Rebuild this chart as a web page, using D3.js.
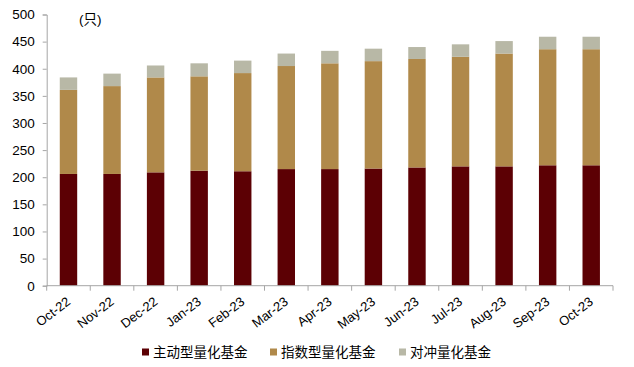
<!DOCTYPE html>
<html lang="zh">
  <head>
    <meta charset="utf-8">
    <title>量化基金数量</title>
    <script src="https://d3js.org/d3.v7.js"></script>
    <style>
      html, body { margin: 0; padding: 0; background: #fff; }
      svg { display: block; }
    </style>
  </head>
  <body>
    <svg></svg>
  <script>

// data

  var months = ["Oct-22", "Nov-22", "Dec-22", "Jan-23", "Feb-23", "Mar-23", "Apr-23",
                "May-23", "Jun-23", "Jul-23", "Aug-23", "Sep-23", "Oct-23"];
  var active = [206, 206, 209, 212, 211, 215, 215, 216, 218, 220, 220, 222, 222];
  var indexed = [155, 162, 175, 174, 181, 190, 195, 198, 200, 202, 208, 214, 214];
  var hedge = [23, 23, 22, 24, 23, 23, 23, 23, 22, 23, 23, 23, 23];
  var seriesNames = ["主动型量化基金", "指数型量化基金", "对冲量化基金"];
  var colors = ["#5c0004", "#b0894a", "#b8b8a6"];
  var yTicks = [0, 50, 100, 150, 200, 250, 300, 350, 400, 450, 500];

  var font = "Liberation Sans, Arial, Noto Sans CJK SC, sans-serif";

  var w = 634;
  var h = 367;
  var margin = {top: 14.5, right: 21, bottom: 81.3, left: 46.7};
  var innerWidth = w - margin.left - margin.right;
  var innerHeight = h - margin.top - margin.bottom;

  var svg = d3.select("svg")
      .attr("width", w)
      .attr("height", h)
      .attr("font-family", font);

  var table = months.map((m, i) => ({month: m, a: active[i], b: indexed[i], c: hedge[i]}));
  var stacked = d3.stack().keys(["a", "b", "c"])(table);

  var xScale = d3.scaleBand()
      .domain(months)
      .range([0, innerWidth])
      .paddingInner(0.6)
      .paddingOuter(0.3);

  var yScale = d3.scaleLinear()
      .domain([0, 500])
      .range([innerHeight, 0]);

  var g = svg.append("g")
      .attr("transform", `translate(${margin.left}, ${margin.top})`);

  g.selectAll("g.series")
    .data(stacked)
    .enter().append("g")
      .attr("class", "series")
      .attr("fill", (d, i) => colors[i])
    .selectAll("rect")
    .data(d => d)
    .enter().append("rect")
      .attr("x", d => xScale(d.data.month))
      .attr("y", d => yScale(d[1]))
      .attr("width", xScale.bandwidth())
      .attr("height", d => yScale(d[0]) - yScale(d[1]));

// y axis

  var yAxis = g.append("g")
      .call(d3.axisLeft(yScale).tickValues(yTicks).tickSize(4).tickPadding(8))
      .attr("font-family", font)
      .attr("font-size", 13.5);
  yAxis.select(".domain").attr("stroke", "#a6a6a6");
  yAxis.selectAll(".tick line").attr("stroke", "#a6a6a6");
  yAxis.selectAll("text").attr("fill", "#000");

// x axis: ticks at category boundaries

  var step = xScale.step();
  var xAxis = g.append("g")
      .attr("transform", `translate(0, ${innerHeight})`)
      .attr("font-size", 13);
  xAxis.append("line")
      .attr("x1", 0).attr("x2", innerWidth)
      .attr("stroke", "#a6a6a6");
  xAxis.selectAll("line.tk")
    .data(d3.range(months.length + 1))
    .enter().append("line")
      .attr("class", "tk")
      .attr("x1", i => i * step).attr("x2", i => i * step)
      .attr("y1", 0).attr("y2", 5)
      .attr("stroke", "#a6a6a6");
  xAxis.selectAll("text")
    .data(months)
    .enter().append("text")
      .attr("text-anchor", "end")
      .attr("transform", d => `translate(${xScale(d) + xScale.bandwidth() / 2 - 3}, 10) rotate(-37)`)
      .attr("dy", "0.75em")
      .attr("fill", "#000")
      .text(d => d);

// unit label

  svg.append("text")
      .attr("x", 79)
      .attr("y", 24)
      .attr("font-size", 13.5)
      .attr("fill", "#000")
      .text("(只)");

// legend

  var legendX = [142, 270, 399];
  var legend = svg.append("g")
      .attr("font-size", 13.5);
  seriesNames.forEach((name, i) => {
    legend.append("rect")
        .attr("x", legendX[i])
        .attr("y", 348.5)
        .attr("width", 7)
        .attr("height", 7)
        .attr("fill", colors[i]);
    legend.append("text")
        .attr("x", legendX[i] + 11)
        .attr("y", 356.5)
        .attr("fill", "#000")
        .text(name);
  });

  </script>
  </body>
</html>
